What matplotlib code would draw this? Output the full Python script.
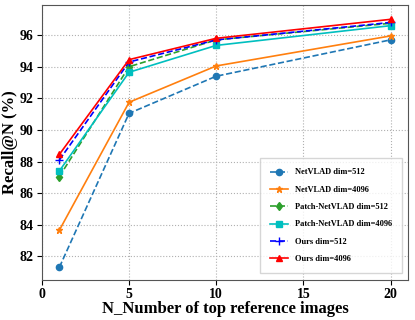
import matplotlib
matplotlib.use("Agg")
import matplotlib.pyplot as plt

plt.rcParams["font.family"] = "Liberation Serif"
plt.rcParams["font.weight"] = "bold"

n = [1, 5, 10, 20]
netvlad_512 = [81.3, 91.05, 93.4, 95.7]
netvlad_4096 = [83.65, 91.75, 94.05, 95.95]
patch_512 = [87.05, 94.0, 95.7, 96.75]
patch_4096 = [87.4, 93.65, 95.35, 96.6]
ours_512 = [88.1, 94.3, 95.7, 96.8]
ours_4096 = [88.45, 94.45, 95.8, 97.0]

fig, ax = plt.subplots(figsize=(4.15, 3.2), dpi=100)

ax.plot(n, netvlad_512, "--o", color="#1f77b4", markersize=4.5, lw=1.2, label="NetVLAD dim=512")
ax.plot(n, netvlad_4096, "-*", color="#ff7f0e", markersize=5, lw=1.2, label="NetVLAD dim=4096")
ax.plot(n, patch_512, "--d", color="#2ca02c", markersize=4.5, lw=1.2, label="Patch-NetVLAD dim=512")
ax.plot(n, patch_4096, "-s", color="c", markersize=4.5, lw=1.2, label="Patch-NetVLAD dim=4096")
ax.plot(n, ours_512, "--+", color="b", markersize=6, lw=1.2, label="Ours dim=512")
ax.plot(n, ours_4096, "-^", color="r", markersize=5, lw=1.2, label="Ours dim=4096")

ax.set_xlim(0, 21)
ax.set_ylim(80.5, 97.9)
ax.set_xticks([0, 5, 10, 15, 20])
ax.set_yticks([82, 84, 86, 88, 90, 92, 94, 96])
ax.tick_params(labelsize=10, pad=2.5)
ax.grid(True, linestyle=":", color="#b0b0b0", lw=0.8)
ax.set_xlabel("N_Number of top reference images", fontsize=12, fontweight="bold", labelpad=0)
ax.set_ylabel("Recall@N (%)", fontsize=12, fontweight="bold", labelpad=1)
for s in ax.spines.values():
    s.set_color("#555555")

leg = ax.legend(loc="lower right", fontsize=6, labelspacing=1.12, borderpad=1.2,
                handlelength=2.2, fancybox=False, edgecolor="#cccccc",
                bbox_to_anchor=(0.995, 0.01))

fig.subplots_adjust(left=0.101, right=0.983, top=0.984, bottom=0.125)
fig.savefig("out.png")
